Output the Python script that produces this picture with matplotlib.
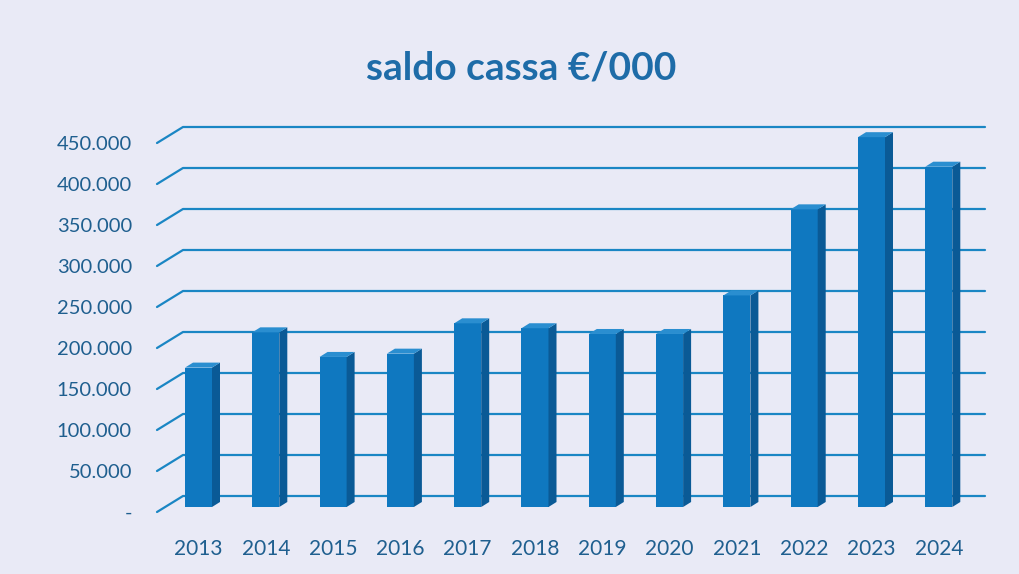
import numpy as np
import matplotlib
matplotlib.use("Agg")
import matplotlib.pyplot as plt
from matplotlib.patches import Polygon

# data (euro)
years = ["2013", "2014", "2015", "2016", "2017", "2018",
         "2019", "2020", "2021", "2022", "2023", "2024"]
saldo = [170000, 213000, 183000, 187000, 224000, 218000,
         211000, 211000, 258000, 363000, 451000, 415000]
ticks = [0, 50000, 100000, 150000, 200000, 250000,
         300000, 350000, 400000, 450000]
tick_labels = ["-", "50.000", "100.000", "150.000", "200.000", "250.000",
               "300.000", "350.000", "400.000", "450.000"]

BG = "#e9eaf6"
GRID = "#1a86c4"
TXT = "#1f5f8f"
FRONT = "#0f78c0"
SIDE = "#0a5a96"
TOP = "#2a8ed0"

W, H = 1019, 574
fig = plt.figure(figsize=(W / 100, H / 100), dpi=100, facecolor=BG)

# pixel mapping: x px = 198.5 + 67.3*i ; y px(from top) = 512 - v*41/50000
px_per_i = 67.3
px_per_v = 41 / 50000
left_px, right_px, top_px, bot_px = 150, 990, 110, 520
xl = ((left_px - 198.5) / px_per_i, (right_px - 198.5) / px_per_i)
yl = ((512 - bot_px) / px_per_v, (512 - top_px) / px_per_v)
ax = fig.add_axes([left_px / W, 1 - bot_px / H,
                   (right_px - left_px) / W, (bot_px - top_px) / H])
ax.set_xlim(*xl)
ax.set_ylim(*yl)
ax.set_facecolor("none")
for s in ax.spines.values():
    s.set_visible(False)

# fake 3d depth
DX = 26 / px_per_i
DY = 16 / px_per_v
x_front = (157 - 198.5) / px_per_i
x_back_end = (985 - 198.5) / px_per_i

for v in ticks:
    ax.plot([x_front, x_front + DX, x_back_end], [v, v + DY, v + DY],
            color=GRID, lw=1.6, solid_capstyle="round", clip_on=False, zorder=1)

bw = 27 / px_per_i
sx = 8 / px_per_i
sy = 5 / px_per_v
base = 5 / px_per_v
x = np.arange(len(years))
for i, v in zip(x, saldo):
    x0, x1 = i - bw / 2, i + bw / 2
    b, t = base, base + v
    ax.add_patch(Polygon([(x0, b), (x1, b), (x1, t), (x0, t)],
                         closed=True, fc=FRONT, ec="none", zorder=3))
    ax.add_patch(Polygon([(x1, b), (x1 + sx, b + sy), (x1 + sx, t + sy), (x1, t)],
                         closed=True, fc=SIDE, ec="none", zorder=3))
    ax.add_patch(Polygon([(x0, t), (x1, t), (x1 + sx, t + sy), (x0 + sx, t + sy)],
                         closed=True, fc=TOP, ec="none", zorder=3))

ax.set_yticks(ticks)
ax.set_yticklabels(tick_labels)
ax.set_xticks(x)
ax.set_xticklabels(years)
ax.tick_params(axis="y", length=0, pad=13, labelsize=14.5, labelcolor=TXT)
ax.tick_params(axis="x", length=0, pad=14, labelsize=15, labelcolor=TXT)
for lab in ax.get_xticklabels() + ax.get_yticklabels():
    lab.set_fontfamily("Lato")

fig.text(521 / W, 1 - 68 / H, "saldo cassa €/000", ha="center", va="center",
         fontsize=28, fontweight="bold", color="#1e6ca8", family="Lato")

fig.savefig("out.png", dpi=100, facecolor=BG)
